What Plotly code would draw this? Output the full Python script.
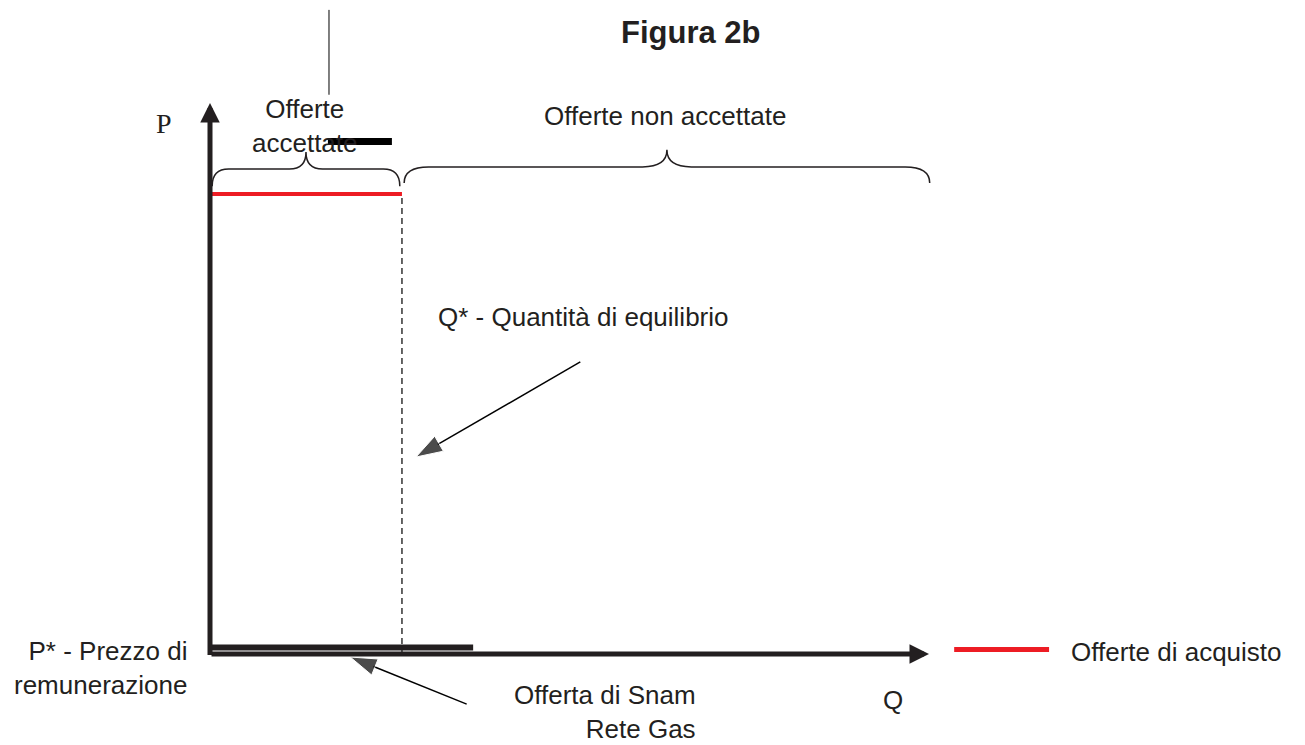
import plotly.graph_objects as go

# browser window size; the page body keeps an 8px margin, so the figure is
# drawn 8px in from the top-left corner and is that much smaller
WIN_W, WIN_H = 1305, 745
BODY_MARGIN = 8
W, H = WIN_W - BODY_MARGIN, WIN_H - BODY_MARGIN
ORIGIN_PX = (210, 654)   # P/Q origin, in window pixels
PX_PER_Q = 7.19
PX_PER_P = 5.51

# diagram values (axis units, both axes end at 100)
q_axis_end = 100
p_axis_end = 100
q_star = 26.7           # Q* - quantita di equilibrio
p_buy = 83.5            # livello offerte di acquisto
buy_q = [0, q_star]
buy_p = [p_buy, p_buy]
snam_q = [0, 36.6]      # offerta di Snam Rete Gas
snam_p = [1.2, 1.2]

# braces: q start, q end, p at the ends, p of the arm, p of the tip, curl
brace_accepted = [0.3, 26.4, 84.9, 88.0, 91.1, 2.3]
brace_rejected = [27.0, 100.1, 85.5, 88.4, 91.5, 3.4]

# pointer arrows, tail -> head
arrow_qstar_q = [51.5, 28.65]
arrow_qstar_p = [53.0, 35.75]
arrow_snam_q = [35.7, 19.5]
arrow_snam_p = [-9.1, -0.55]

# stray marks of the original drawing
stray_q = [16.55, 16.55]
stray_p = [101.5, 116.9]
strike_q = [16.4, 25.3]
strike_p = [93.0, 93.0]

legend_q = [103.5, 116.7]
legend_p = [0.8, 0.8]

INK = "#231f20"
RED = "#ed1c24"
FONT = "Liberation Sans, Arial, sans-serif"


def brace_path(q0, q1, p_end, p_arm, p_tip, r):
    qc = (q0 + q1) / 2
    return (f"M{q0},{p_end} Q{q0},{p_arm} {q0 + r},{p_arm} "
            f"L{qc - r},{p_arm} Q{qc},{p_arm} {qc},{p_tip} "
            f"Q{qc},{p_arm} {qc + r},{p_arm} "
            f"L{q1 - r},{p_arm} Q{q1},{p_arm} {q1},{p_end}")


def paper(px, py):
    return (px - BODY_MARGIN) / W, 1 - (py - BODY_MARGIN) / H


def label(text, px, py, size=26, xanchor="center", align="center", family=FONT, bold=False):
    x, y = paper(px, py)
    if bold:
        text = f"<b>{text}</b>"
    return dict(text=text, x=x, y=y, xref="paper", yref="paper", showarrow=False,
                xanchor=xanchor, yanchor="middle", align=align,
                font=dict(family=family, size=size, color=INK))


fig = go.Figure()

# offerte di acquisto (red) and Q* dashed line
fig.add_trace(go.Scatter(x=[q_star, q_star], y=[0, p_buy], mode="lines",
                         line=dict(color="black", width=1.2, dash="6px,4px")))
fig.add_trace(go.Scatter(x=buy_q, y=buy_p, mode="lines",
                         line=dict(color=RED, width=4), name="Offerte di acquisto"))
fig.add_trace(go.Scatter(x=snam_q, y=snam_p, mode="lines",
                         line=dict(color=INK, width=6), name="Offerta di Snam Rete Gas"))

# stray marks
fig.add_trace(go.Scatter(x=stray_q, y=stray_p, mode="lines", line=dict(color="black", width=1)))
fig.add_trace(go.Scatter(x=strike_q, y=strike_p, mode="lines", line=dict(color="black", width=7)))

# legend line
fig.add_trace(go.Scatter(x=legend_q, y=legend_p, mode="lines", line=dict(color=RED, width=5)))

# pointer arrows
for aq, ap in [(arrow_qstar_q, arrow_qstar_p), (arrow_snam_q, arrow_snam_p)]:
    fig.add_trace(go.Scatter(x=aq, y=ap, mode="lines+markers",
                             line=dict(color="black", width=1.5),
                             marker=dict(symbol=["circle", "arrow"], size=[0, 28],
                                         angleref="previous", color="black")))

for b in (brace_accepted, brace_rejected):
    fig.add_shape(type="path", path=brace_path(*b), xref="x", yref="y",
                  line=dict(color=INK, width=1.5))

# axes with arrow heads
fig.add_annotation(x=q_axis_end, y=0, ax=0, ay=0, xref="x", yref="y", axref="x", ayref="y",
                   text="", showarrow=True, arrowhead=2, arrowsize=0.78, arrowwidth=5,
                   arrowcolor=INK, standoff=0)
fig.add_annotation(x=0, y=p_axis_end, ax=0, ay=-0.45, xref="x", yref="y", axref="x", ayref="y",
                   text="", showarrow=True, arrowhead=2, arrowsize=0.78, arrowwidth=5,
                   arrowcolor=INK, standoff=0)

annotations = [
    label("Figura 2b", 691, 33, size=31, bold=True),
    label("P", 164, 123, size=28, family="Liberation Serif, Times New Roman, serif"),
    label("Offerte<br>accettate", 305, 126),
    label("Offerte non accettate", 665, 116),
    label("Q* - Quantità di equilibrio", 436, 317, xanchor="left"),
    label("P* - Prezzo di<br>remunerazione", 189, 668, xanchor="right", align="right"),
    label("Offerta di Snam<br>Rete Gas", 698, 712, xanchor="right", align="right"),
    label("Q", 893, 700),
    label("Offerte di acquisto", 1069, 652, xanchor="left"),
]
for a in annotations:
    fig.add_annotation(**a)

ox, oy = ORIGIN_PX[0] - BODY_MARGIN, ORIGIN_PX[1] - BODY_MARGIN
x_range = [-ox / PX_PER_Q, (W - ox) / PX_PER_Q]
y_range = [(oy - H) / PX_PER_P, oy / PX_PER_P]

fig.update_layout(width=W, height=H, showlegend=False,
                  margin=dict(l=0, r=0, t=0, b=0),
                  paper_bgcolor="white", plot_bgcolor="white",
                  xaxis=dict(range=x_range, visible=False, fixedrange=True),
                  yaxis=dict(range=y_range, visible=False, fixedrange=True))

fig.write_html("out.html")
